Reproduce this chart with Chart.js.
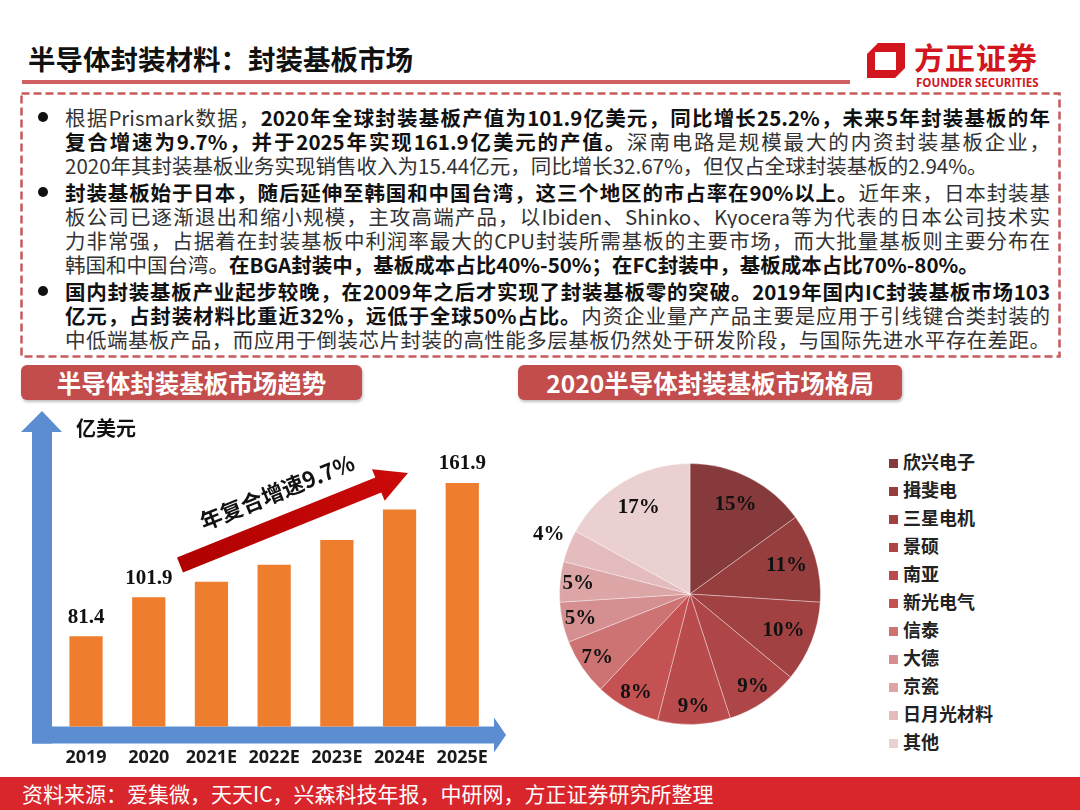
<!DOCTYPE html>
<html lang="zh">
<head>
<meta charset="UTF-8" />
<meta name="viewport" content="width=device-width, initial-scale=1.0"/>
<title>半导体封装材料：封装基板市场</title>
<script src="https://cdn.jsdelivr.net/npm/chart.js"></script>
<style>
  body {
    margin: 0;
    width: 1080px;
    height: 810px;
    position: relative;
    overflow: hidden;
    background: #fff;
    font-family: "Noto Sans CJK SC", "Noto Sans", sans-serif;
    color: #333;
  }
  .abs { position: absolute; }

  #title {
    left: 28px; top: 38px;
    font-size: 27.5px; font-weight: 700; color: #111;
    line-height: 40px; white-space: nowrap;
  }
  #titleLine { left: 22px; top: 80px; width: 828px; height: 4px; background: #d06062; }

  #logoText {
    left: 914px; top: 38px;
    font-size: 30px; font-weight: 700; color: #d3151d;
    line-height: 36px; letter-spacing: 1px; white-space: nowrap;
  }
  #logoSub {
    left: 916px; top: 76px;
    font-family: "Open Sans", sans-serif;
    font-size: 11.5px; font-weight: 700; color: #d3151d;
    line-height: 14px; white-space: nowrap;
  }

  #textBox { left: 65px; top: 105px; width: 985px; }
  #textBox .ln {
    height: 24px; line-height: 24px;
    font-size: 20.5px; white-space: nowrap;
  }
  #textBox .full { text-align: justify; text-align-last: justify; white-space: normal; overflow: hidden; }
  #textBox .gap { margin-top: 3px; }
  #textBox b { color: #111; }
  #textBox .u {
    text-decoration: underline;
    text-decoration-thickness: 1.5px;
    text-underline-offset: 3px;
  }
  .bullet { width: 10px; height: 10px; border-radius: 50%; background: #111; left: 38px; }

  .hdr {
    top: 365px; height: 35px; line-height: 35px;
    background: #c24d4c; border-radius: 6px;
    color: #fff; font-size: 24.5px; font-weight: 700;
    text-align: center; white-space: nowrap;
    box-shadow: 1px 2px 3px rgba(0,0,0,0.25);
  }

  #legend { left: 889px; top: 447px; }
  #legend .item {
    height: 28px; line-height: 28px;
    font-size: 18px; font-weight: 700; color: #222;
    white-space: nowrap;
  }
  #legend .sw {
    display: inline-block; width: 9px; height: 9px;
    margin-right: 5px; vertical-align: 1px;
  }

  #footer {
    left: 0; top: 777px; width: 1080px; height: 33px;
    background: #d9262c; color: #fff;
    font-size: 21px; line-height: 33px;
    padding-left: 22px; box-sizing: border-box; white-space: nowrap;
  }
</style>
</head>
<body>
  <div id="title" class="abs">半导体封装材料：封装基板市场</div>
  <div id="titleLine" class="abs"></div>

  <svg class="abs" style="left:0;top:0" width="1080" height="810">
    <path d="M878 43 L905 43 L905 68 L895 78 L867 78 L867 54 Z M875 52 L875 70 L896 70 L896 52 Z"
          fill="#d3151d" fill-rule="evenodd"/>
    <rect x="21.5" y="93.5" width="1038" height="263" fill="none"
          stroke="#c9585b" stroke-width="2.5" stroke-dasharray="8 4"/>
  </svg>
  <div id="logoText" class="abs">方正证券</div>
  <div id="logoSub" class="abs">FOUNDER SECURITIES</div>

  <div class="abs bullet" style="top:112px"></div>
  <div class="abs bullet" style="top:187px"></div>
  <div class="abs bullet" style="top:286px"></div>

  <div id="textBox" class="abs">
    <div class="ln full">根据Prismark数据，<b class="u">2020年全球封装基板产值为101.9亿美元，同比增长25.2%，未来5年封装基板的年</b></div>
    <div class="ln full"><b class="u">复合增速为9.7%，并于2025年实现161.9亿美元的产值。</b>深南电路是规模最大的内资封装基板企业，</div>
    <div class="ln">2020年其封装基板业务实现销售收入为15.44亿元，同比增长32.67%，但仅占全球封装基板的2.94%。</div>
    <div class="ln full gap"><b class="u">封装基板始于日本，随后延伸至韩国和中国台湾，这三个地区的市占率在90%以上。</b>近年来，日本封装基</div>
    <div class="ln full">板公司已逐渐退出和缩小规模，主攻高端产品，以Ibiden、Shinko、Kyocera等为代表的日本公司技术实</div>
    <div class="ln full">力非常强，占据着在封装基板中利润率最大的CPU封装所需基板的主要市场，而大批量基板则主要分布在</div>
    <div class="ln">韩国和中国台湾。<b>在BGA封装中，基板成本占比40%-50%；在FC封装中，基板成本占比70%-80%。</b></div>
    <div class="ln full gap"><b class="u">国内封装基板产业起步较晚，在2009年之后才实现了封装基板零的突破。2019年国内IC封装基板市场103</b></div>
    <div class="ln full"><b class="u">亿元，占封装材料比重近32%，远低于全球50%占比。</b>内资企业量产产品主要是应用于引线键合类封装的</div>
    <div class="ln full">中低端基板产品，而应用于倒装芯片封装的高性能多层基板仍然处于研发阶段，与国际先进水平存在差距。</div>
  </div>

  <div class="abs hdr" style="left:21px;width:341px">半导体封装基板市场趋势</div>
  <div class="abs hdr" style="left:518px;width:384px">2020半导体封装基板市场格局</div>

  <div class="abs" style="left:0;top:400px;width:520px;height:390px">
    <canvas id="barChart"></canvas>
  </div>
  <div class="abs" style="left:520px;top:420px;width:340px;height:340px">
    <canvas id="pieChart"></canvas>
  </div>
  <div id="legend" class="abs"></div>

  <div id="footer" class="abs">资料来源：爱集微，天天IC，兴森科技年报，中研网，方正证券研究所整理</div>

  <script>
    // bar chart: market size, 亿美元
    const years = ['2019', '2020', '2021E', '2022E', '2023E', '2024E', '2025E'];
    const marketSize = [81.4, 101.9, 110, 119, 132, 148, 161.9];
    const sizeLabels = ['81.4', '101.9', '', '', '', '', '161.9'];
    const unitText = '亿美元';
    const cagrText = '年复合增速9.7%';

    // pie chart: 2020 market share, %
    const companies = ['欣兴电子', '揖斐电', '三星电机', '景硕', '南亚', '新光电气', '信泰', '大德', '京瓷', '日月光材料', '其他'];
    const shares = [15, 11, 10, 9, 9, 8, 7, 5, 5, 4, 17];
    const shareColors = ['#863a3b', '#963d3e', '#a14142', '#ae4547', '#b94b4d', '#c45252',
                         '#cd7373', '#d58f90', '#dca6a7', '#e4bcbd', '#ebd0d1'];

    // axes arrows, unit text and the CAGR arrow
    const barDecor = {
      id: 'barDecor',
      beforeDatasetsDraw(chart) {
        const ctx = chart.ctx;
        const a = chart.chartArea;
        ctx.save();
        ctx.fillStyle = '#5b8dd0';
        // vertical arrow
        ctx.beginPath();
        ctx.moveTo(32, a.bottom + 17);
        ctx.lineTo(32, 32);
        ctx.lineTo(21, 32);
        ctx.lineTo(42, 11);
        ctx.lineTo(62, 32);
        ctx.lineTo(52, 32);
        ctx.lineTo(52, a.bottom + 17);
        ctx.closePath();
        ctx.fill();
        // horizontal arrow
        ctx.beginPath();
        ctx.moveTo(32, a.bottom);
        ctx.lineTo(494, a.bottom);
        ctx.lineTo(494, a.bottom - 9);
        ctx.lineTo(506, a.bottom + 8.5);
        ctx.lineTo(494, a.bottom + 26);
        ctx.lineTo(494, a.bottom + 17);
        ctx.lineTo(32, a.bottom + 17);
        ctx.closePath();
        ctx.fill();

        ctx.fillStyle = '#111';
        ctx.font = 'bold 20px "Noto Sans CJK SC"';
        ctx.textAlign = 'center';
        ctx.textBaseline = 'middle';
        ctx.fillText(unitText, 106, 28);

        // red CAGR arrow
        const tail = {x: 180, y: 165}, tip = {x: 408, y: 73};
        const dx = tip.x - tail.x, dy = tip.y - tail.y;
        const len = Math.hypot(dx, dy);
        const ux = dx / len, uy = dy / len, nx = -uy, ny = ux;
        const hw = 8, hh = 17, hl = 32;
        const bx = tip.x - ux * hl, by = tip.y - uy * hl;
        const grad = ctx.createLinearGradient(tail.x, tail.y, tip.x, tip.y);
        grad.addColorStop(0, '#b00000');
        grad.addColorStop(1, '#cc0a0a');
        ctx.fillStyle = grad;
        ctx.beginPath();
        ctx.moveTo(tail.x + nx * hw, tail.y + ny * hw);
        ctx.lineTo(bx + nx * hw, by + ny * hw);
        ctx.lineTo(bx + nx * hh, by + ny * hh);
        ctx.lineTo(tip.x, tip.y);
        ctx.lineTo(bx - nx * hh, by - ny * hh);
        ctx.lineTo(bx - nx * hw, by - ny * hw);
        ctx.lineTo(tail.x - nx * hw, tail.y - ny * hw);
        ctx.closePath();
        ctx.fill();

        ctx.translate(277, 92);
        ctx.rotate(Math.atan2(dy, dx));
        ctx.fillStyle = '#111';
        ctx.font = 'bold 22px "Noto Sans CJK SC"';
        ctx.fillText(cagrText, 0, 0);
        ctx.restore();
      },
      afterDatasetsDraw(chart) {
        const ctx = chart.ctx;
        const bars = chart.getDatasetMeta(0).data;
        ctx.save();
        ctx.fillStyle = '#111';
        ctx.font = 'bold 21px "Liberation Serif"';
        ctx.textAlign = 'center';
        ctx.textBaseline = 'middle';
        bars.forEach((bar, i) => {
          if (sizeLabels[i]) ctx.fillText(sizeLabels[i], bar.x, bar.y - 19);
        });
        ctx.restore();
      }
    };

    new Chart(document.getElementById('barChart'), {
      type: 'bar',
      data: {
        labels: years,
        datasets: [{
          data: marketSize,
          backgroundColor: '#ee7e2d',
          barPercentage: 0.53,
          categoryPercentage: 1.0
        }]
      },
      options: {
        responsive: true,
        maintainAspectRatio: false,
        animation: false,
        layout: { padding: { top: 20, left: 54.7, right: 26.4, bottom: 0 } },
        plugins: { legend: { display: false }, tooltip: { enabled: false } },
        scales: {
          x: {
            grid: { display: false, drawTicks: false },
            border: { display: false },
            ticks: {
              color: '#1a1a1a',
              font: { family: 'Noto Sans', size: 18, weight: 'bold' },
              padding: 21,
              maxRotation: 0,
              minRotation: 0,
              autoSkip: false
            }
          },
          y: { display: false, min: 34, max: 195 }
        }
      },
      plugins: [barDecor]
    });

    // percentage labels on the slices, small slices outside
    const pieLabels = {
      id: 'pieLabels',
      afterDatasetsDraw(chart) {
        const ctx = chart.ctx;
        const arcs = chart.getDatasetMeta(0).data;
        ctx.save();
        ctx.fillStyle = '#111';
        ctx.font = 'bold 21px "Liberation Serif"';
        ctx.textAlign = 'center';
        ctx.textBaseline = 'middle';
        arcs.forEach((arc, i) => {
          const mid = (arc.startAngle + arc.endAngle) / 2;
          const r = arc.outerRadius;
          const text = shares[i] + '%';
          if (shares[i] < 5) {
            const ex = arc.x + Math.cos(mid) * r, ey = arc.y + Math.sin(mid) * r;
            ctx.fillText(text, ex - 20, ey - 11);
          } else {
            const f = shares[i] >= 10 ? 0.77 : 0.86;
            ctx.fillText(text, arc.x + Math.cos(mid) * r * f, arc.y + Math.sin(mid) * r * f);
          }
        });
        ctx.restore();
      }
    };

    new Chart(document.getElementById('pieChart'), {
      type: 'pie',
      data: {
        labels: companies,
        datasets: [{
          data: shares,
          backgroundColor: shareColors,
          borderColor: 'rgba(255,255,255,0.35)',
          borderWidth: 1,
          hoverOffset: 0
        }]
      },
      options: {
        responsive: true,
        maintainAspectRatio: false,
        animation: false,
        layout: { padding: { left: 39, top: 43, right: 39, bottom: 35 } },
        plugins: { legend: { display: false }, tooltip: { enabled: false } }
      },
      plugins: [pieLabels]
    });

    // legend built from the pie data
    const legend = document.getElementById('legend');
    companies.forEach((name, i) => {
      const item = document.createElement('div');
      item.className = 'item';
      item.innerHTML = `<span class="sw" style="background:${shareColors[i]}"></span>${name}`;
      legend.appendChild(item);
    });
  </script>
</body>
</html>
